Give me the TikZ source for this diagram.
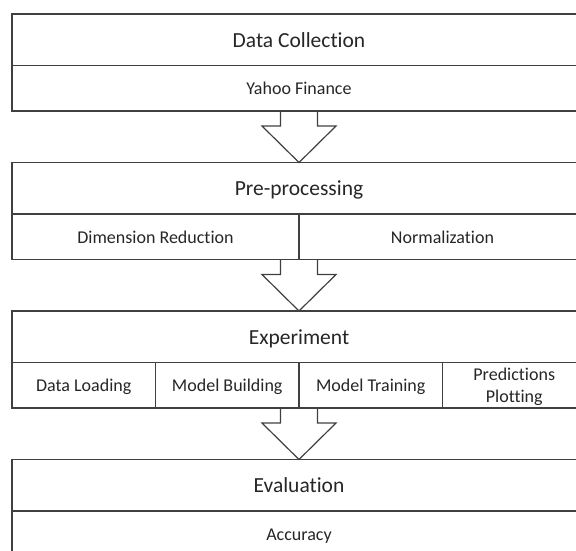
\documentclass[tikz,border=0pt]{standalone}
\usepackage{fontspec}
\setmainfont{Carlito}[Ligatures=NoCommon]
\usetikzlibrary{positioning, calc}

\tikzset{
  cell/.style={draw=black!75, line width=1.2pt, rectangle, inner sep=0pt, outer sep=0pt,
    minimum height=45.5pt, text=black!85, align=center, text height=12.6pt, text depth=0pt,
    font=\fontsize{18pt}{22pt}\selectfont},
  headcell/.style={cell, minimum width=574pt, minimum height=51.5pt, text height=15pt,
    font=\fontsize{21.5pt}{26pt}\selectfont},
  arrowline/.style={draw=black!75, line width=1.2pt, line join=miter}
}

% hollow block arrow between two stages
\newcommand{\stagearrow}[2]{%
  \draw[arrowline] ($(#1)+(-18.5,0)$) |- ($(#1)+(-37,15)$) -- (#2)
    -- ($(#1)+(37,15)$) -| ($(#1)+(18.5,0)$);}

\begin{document}
\begin{tikzpicture}[x=1pt, y=-1pt, node distance=0pt]
  \useasboundingbox (0,0) rectangle (576,550);
  \clip (0,0) rectangle (576,550);

  \node[headcell, anchor=north west] (collect) at (12,14) {Data Collection};
  \node[cell, minimum width=574pt, below=of collect] (yahoo) {Yahoo Finance};

  \node[headcell, below=51.5pt of yahoo] (prep) {Pre-processing};
  \node[cell, minimum width=287pt, below right=0pt and 0pt of prep.south west] (dimred) {Dimension Reduction};
  \node[cell, minimum width=287pt, right=of dimred] (norm) {Normalization};

  \node[headcell, below=51.5pt of dimred.south east] (exper) {Experiment};
  \node[cell, minimum width=143.5pt, below right=0pt and 0pt of exper.south west] (load) {Data Loading};
  \node[cell, minimum width=143.5pt, right=of load] (build) {Model Building};
  \node[cell, minimum width=143.5pt, right=of build] (train) {Model Training};
  \node[cell, minimum width=143.5pt, text height=34.6pt, right=of train] (plot) {Predictions\\Plotting};

  \node[headcell, below=51.5pt of build.south east] (eval) {Evaluation};
  \node[cell, minimum width=574pt, below=of eval] (acc) {Accuracy};

  \stagearrow{yahoo.south}{prep.north}
  \stagearrow{dimred.south east}{exper.north}
  \stagearrow{build.south east}{eval.north}
\end{tikzpicture}
\end{document}
